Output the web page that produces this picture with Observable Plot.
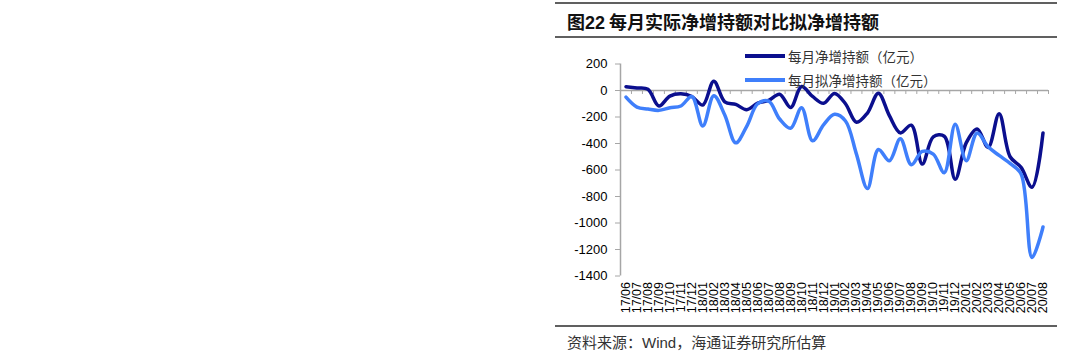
<!DOCTYPE html>
<html>
<head>
<meta charset="utf-8">
<script src="https://cdn.jsdelivr.net/npm/d3@7"></script>
<script src="https://cdn.jsdelivr.net/npm/@observablehq/plot@0.6"></script>
<style>
  html, body { margin: 0; padding: 0; background: #fff; }
  #wrap { position: relative; width: 1080px; height: 364px; overflow: hidden; background: #fff; }
  #chart { position: absolute; left: 0; top: 0; }
  .rule { position: absolute; left: 555px; width: 502px; height: 2px; background: #606060; }
  #title { position: absolute; left: 567px; top: 7px; font-family: "Noto Sans CJK SC", sans-serif; font-weight: 700; font-size: 18px; color: #111; white-space: nowrap; line-height: 28px; }
  #title .num { font-family: "Liberation Sans", Arial, sans-serif; font-weight: 700; }
  #caption { position: absolute; left: 567px; top: 330px; font-family: "Noto Sans CJK SC", sans-serif; font-size: 15px; color: #333; white-space: nowrap; line-height: 24px; }
  #caption .lat { font-family: "Liberation Sans", Arial, sans-serif; }
  .leg { position: absolute; left: 745px; display: flex; align-items: center; font-family: "Noto Sans CJK SC", sans-serif; font-size: 13.5px; color: #333; white-space: nowrap; }
  .leg .sw { width: 40px; height: 4px; margin-right: 3px; }
</style>
</head>
<body>
<div id="wrap">
  <div class="rule" style="top:2px"></div>
  <div id="title">图<span class="num">22</span> 每月实际净增持额对比拟净增持额</div>
  <div class="rule" style="top:36px"></div>
  <div id="chart"></div>
  <div id="legend"></div>
  <div class="rule" style="top:325px"></div>
  <div id="caption">资料来源：<span class="lat">Wind</span>，海通证券研究所估算</div>
</div>
<script>
const months = ["17/06","17/07","17/08","17/09","17/10","17/11","17/12",
  "18/01","18/02","18/03","18/04","18/05","18/06","18/07","18/08","18/09","18/10","18/11","18/12",
  "19/01","19/02","19/03","19/04","19/05","19/06","19/07","19/08","19/09","19/10","19/11","19/12",
  "20/01","20/02","20/03","20/04","20/05","20/06","20/07","20/08"];
// 每月净增持额（亿元）
const actual = [29, 19, 9, -117, -42, -25, -45,
  -110, 70, -85, -105, -145, -95, -75, -28, -128, 30, -45, -97,
  -22, -100, -240, -170, -20, -190, -320, -262, -555, -350, -345, -670,
  -395, -290, -430, -175, -500, -580, -730, -320];
// 每月拟净增持额（亿元）
const planned = [-50, -125, -140, -150, -130, -117, -45,
  -268, -40, -185, -395, -270, -100, -80, -215, -285, -130, -380, -260,
  -180, -230, -480, -740, -445, -530, -365, -560, -460, -480, -620, -255,
  -530, -320, -425, -490, -550, -630, -1260, -1030];
const yTicks = [200, 0, -200, -400, -600, -800, -1000, -1200, -1400];
const seriesNames = ["每月净增持额（亿元）", "每月拟净增持额（亿元）"];
const colors = ["#0b0f8e", "#3f7ffb"];

const idx = months.map((m, i) => i);
const data = months.map((m, i) => ({ i, month: m, actual: actual[i], planned: planned[i] }));
const boundaries = d3.range(months.length + 1).map(k => k - 0.5);
const axisColor = "#a6a6a6";

const chart = Plot.plot({
  width: 1080,
  height: 364,
  marginLeft: 620,
  marginRight: 32,
  marginTop: 63.5,
  marginBottom: 88.5,
  x: { type: "linear", domain: [-0.5, months.length - 0.5] },
  y: { domain: [-1400, 200] },
  style: { fontFamily: "'Liberation Sans', Arial, sans-serif", fontSize: "13px", color: "#000", background: "transparent" },
  marks: [
    Plot.ruleX([-0.5], { stroke: axisColor, strokeWidth: 1.5, y1: -1400, y2: 200 }),
    Plot.axisY({ ticks: yTicks, tickSize: 5, tickPadding: 8, stroke: axisColor, label: null, fontSize: 13, tickFormat: d => String(d) }),
    Plot.ruleY([0], { stroke: axisColor, strokeWidth: 1.5 }),
    Plot.ruleX(boundaries, { x: d => d, y1: 0, y2: -30, stroke: axisColor, strokeWidth: 1 }),
    Plot.axisX({ ticks: idx, tickFormat: i => months[i], tickRotate: -90, tickSize: 0, tickPadding: 6, label: null, fontSize: 12.5 }),
    Plot.line(data, { x: "i", y: "actual", curve: "catmull-rom", stroke: colors[0], strokeWidth: 3.5 }),
    Plot.line(data, { x: "i", y: "planned", curve: "catmull-rom", stroke: colors[1], strokeWidth: 3.5 })
  ]
});
document.getElementById("chart").appendChild(chart);

const legend = document.getElementById("legend");
const legTops = [46, 70];
seriesNames.forEach((name, k) => {
  const row = document.createElement("div");
  row.className = "leg";
  row.style.top = legTops[k] + "px";
  const sw = document.createElement("div");
  sw.className = "sw";
  sw.style.background = colors[k];
  const tx = document.createElement("span");
  tx.textContent = name;
  row.appendChild(sw);
  row.appendChild(tx);
  legend.appendChild(row);
});
</script>
</body>
</html>
